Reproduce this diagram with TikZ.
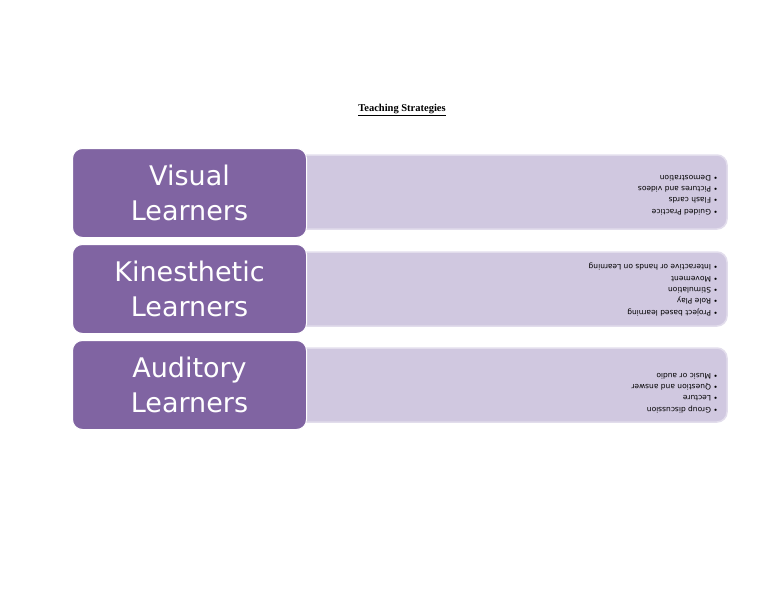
\documentclass[tikz,border=0pt]{standalone}
\usepackage{fontspec}
\setmainfont{DejaVu Sans}
\newfontfamily\titlefont{Liberation Serif}
\definecolor{darkpurple}{HTML}{8064A2}
\definecolor{lightpurple}{HTML}{D0C8E0}
\definecolor{edgepurple}{HTML}{E2DDEC}
\begin{document}
\begin{tikzpicture}[x=1pt,y=-1pt,
  headbox/.style={fill=darkpurple,draw=white,line width=1pt,rounded corners=10pt},
  listbox/.style={fill=lightpurple,draw=edgepurple,line width=1.5pt,rounded corners=10pt},
  headtext/.style={text=white,font=\fontsize{27}{35}\selectfont,align=center},
  listtext/.style={rotate=180,anchor=north west,align=left,font=\fontsize{7.5}{11.3}\selectfont,inner sep=0pt}]
\useasboundingbox (0,0) rectangle (768,594);
\node[font=\titlefont\bfseries\fontsize{10.5}{12}\selectfont] (title) at (402,110) {\underline{Teaching Strategies}};
\foreach \n/\t in {a/155,b/252,c/348}{
  \fill[listbox] (296,\t) rectangle (727,\t+74);
}
\node[headbox,minimum width=234pt,minimum height=89pt,anchor=north west] (h1) at (72,148) {};
\node[headtext] at (h1) {Visual\\Learners};
\node[headbox,minimum width=234pt,minimum height=89pt,anchor=north west] (h2) at (72,244) {};
\node[headtext] at (h2) {Kinesthetic\\Learners};
\node[headbox,minimum width=234pt,minimum height=89pt,anchor=north west] (h3) at (72,340) {};
\node[headtext] at (h3) {Auditory\\Learners};
\node[listtext] (l1) at (718,215) {• Guided Practice\\• Flash cards\\• Pictures and videos\\• Demostration};
\node[listtext] (l2) at (718,316) {• Project based learning\\• Role Play\\• Stimulation\\• Movement\\• Interactive or hands on Learning};
\node[listtext] (l3) at (718,413) {• Group discussion\\• Lecture\\• Question and answer\\• Music or audio};
\end{tikzpicture}
\end{document}
